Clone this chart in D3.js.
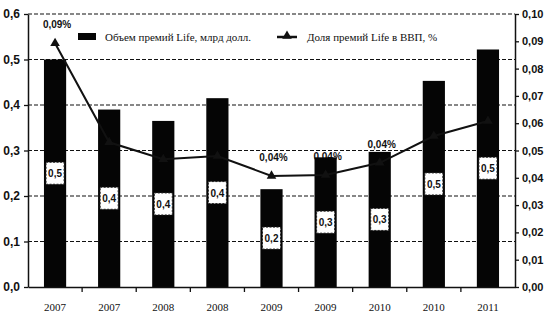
<!DOCTYPE html>
<html><head><meta charset="utf-8">
<script src="https://cdn.jsdelivr.net/npm/d3@7"></script>
<style>body{margin:0;background:#fff}svg{display:block}</style>
</head><body>
<svg id="c" width="545" height="327"></svg>
<script>
const categories = ["2007","2007","2008","2008","2009","2009","2010","2010","2011"];
const premiums = [0.50, 0.39, 0.365, 0.415, 0.215, 0.285, 0.297, 0.453, 0.522];
const premiumLabels = ["0,5","0,4","0,4","0,4","0,2","0,3","0,3","0,5","0,5"];
const gdpShare = [0.0893, 0.0530, 0.0468, 0.0480, 0.0407, 0.0410, 0.0455, 0.0553, 0.0608];
const gdpLabels = ["0,09%","","","","0,04%","0,04%","0,04%","",""];
const leftTicks = [0,0.1,0.2,0.3,0.4,0.5,0.6];
const rightTicks = [0,0.01,0.02,0.03,0.04,0.05,0.06,0.07,0.08,0.09,0.10];
const seriesNames = ["Объем премий Life, млрд долл.","Доля премий Life в ВВП, %"];

const svg = d3.select("#c");
const L = 28, R = 515, T = 14, B = 287;
const x = d3.scaleBand().domain(d3.range(categories.length)).range([L, R]).paddingInner(0.59).paddingOuter(0.295);
const y = d3.scaleLinear().domain([0, 0.6]).range([B, T]);
const y2 = d3.scaleLinear().domain([0, 0.10]).range([B, T]);
const fmt1 = d => d.toFixed(1).replace(".", ",");
const fmt2 = d => d.toFixed(2).replace(".", ",");

// gridlines
svg.append("g").selectAll("line").data(leftTicks.filter(d => d > 0)).join("line")
  .attr("x1", L).attr("x2", R).attr("y1", d => y(d)).attr("y2", d => y(d))
  .attr("stroke", "#111").attr("stroke-width", 1.2).attr("stroke-dasharray", "4,2");

// line labels (behind bars)
const cx = i => x(i) + x.bandwidth() / 2;
svg.append("g").selectAll("text").data(gdpShare.map((v,i)=>({v,i,t:gdpLabels[i]})).filter(d=>d.t)).join("text")
  .attr("x", d => cx(d.i) + 2).attr("y", d => y2(d.v) - 15)
  .attr("text-anchor", "middle").attr("font-family", "Liberation Sans Narrow, Arial Narrow, Liberation Sans, sans-serif")
  .attr("font-weight", "bold").attr("font-size", 10).attr("fill", "#111").text(d => d.t);

// bars
svg.append("g").selectAll("rect").data(premiums).join("rect")
  .attr("x", (d,i) => x(i)).attr("y", d => y(d)).attr("width", x.bandwidth()).attr("height", d => B - y(d))
  .attr("fill", "#050505");

// line
const line = d3.line().x((d,i) => cx(i)).y(d => y2(d));
svg.append("path").datum(gdpShare).attr("d", line).attr("fill", "none").attr("stroke", "#111").attr("stroke-width", 2);
const tri = d3.symbol().type(d3.symbolTriangle).size(40);
svg.append("g").selectAll("path").data(gdpShare).join("path")
  .attr("d", tri).attr("transform", (d,i) => `translate(${cx(i)},${y2(d)})`).attr("fill", "#111");

// bar value labels
const lg = svg.append("g").selectAll("g").data(premiums).join("g")
  .attr("transform", (d,i) => `translate(${cx(i)},${(y(d)+B)/2})`);
lg.append("rect").attr("x", -9).attr("y", -11).attr("width", 18).attr("height", 22)
  .attr("fill", "#fff").attr("stroke", "#222").attr("stroke-width", 1).attr("stroke-dasharray", "2,1.5");
lg.append("text").attr("y", 4).attr("text-anchor", "middle")
  .attr("font-family", "Liberation Sans Narrow, Arial Narrow, Liberation Sans, sans-serif")
  .attr("font-weight", "bold").attr("font-size", 10).attr("fill", "#111").text((d,i) => premiumLabels[i]);

// axes
const axL = svg.append("g").attr("transform", `translate(${L},0)`)
  .call(d3.axisLeft(y).tickValues(leftTicks).tickFormat(fmt1).tickSize(4).tickSizeOuter(0));
const axR = svg.append("g").attr("transform", `translate(${R},0)`)
  .call(d3.axisRight(y2).tickValues(rightTicks).tickFormat(fmt2).tickSize(4).tickSizeOuter(0));
const axB = svg.append("g").attr("transform", `translate(0,${B})`)
  .call(d3.axisBottom(x).tickFormat(i => categories[i]).tickSize(0).tickSizeOuter(0));
[axL, axR, axB].forEach(a => {
  a.select(".domain").attr("stroke", "#111").attr("stroke-width", 1.5);
  a.selectAll(".tick line").attr("stroke", "#111").attr("stroke-width", 1.3);
});
axL.selectAll("text").attr("font-family", "Liberation Sans, Arial, sans-serif").attr("font-size", 12).attr("font-weight", "bold").attr("fill", "#111").attr("dx", -1);
axR.selectAll("text").attr("font-family", "Liberation Sans Narrow, Arial Narrow, Liberation Sans, sans-serif").attr("font-size", 11).attr("font-weight", "bold").attr("fill", "#111");
axB.selectAll("text").attr("font-family", "Liberation Serif, Times New Roman, serif").attr("font-size", 11).attr("fill", "#111").attr("dy", "1.9em");
// bottom boundary ticks
const bounds = d3.range(1, categories.length).map(i => x(i) - x.step() * x.paddingInner() / 2);
svg.append("g").selectAll("line").data(bounds).join("line")
  .attr("x1", d => d).attr("x2", d => d).attr("y1", B).attr("y2", B + 5)
  .attr("stroke", "#111").attr("stroke-width", 1.3);

// legend
const leg = svg.append("g").attr("font-family", "Liberation Serif, Times New Roman, serif").attr("font-size", 11).attr("fill", "#111");
leg.append("rect").attr("x", 78).attr("y", 33).attr("width", 18).attr("height", 7).attr("fill", "#050505");
leg.append("text").attr("x", 105).attr("y", 41).text(seriesNames[0]);
leg.append("line").attr("x1", 277).attr("x2", 297).attr("y1", 37).attr("y2", 37).attr("stroke", "#111").attr("stroke-width", 2.5);
leg.append("path").attr("d", tri).attr("transform", "translate(287,36)").attr("fill", "#111");
leg.append("text").attr("x", 307).attr("y", 41).text(seriesNames[1]);
</script>
</body></html>
